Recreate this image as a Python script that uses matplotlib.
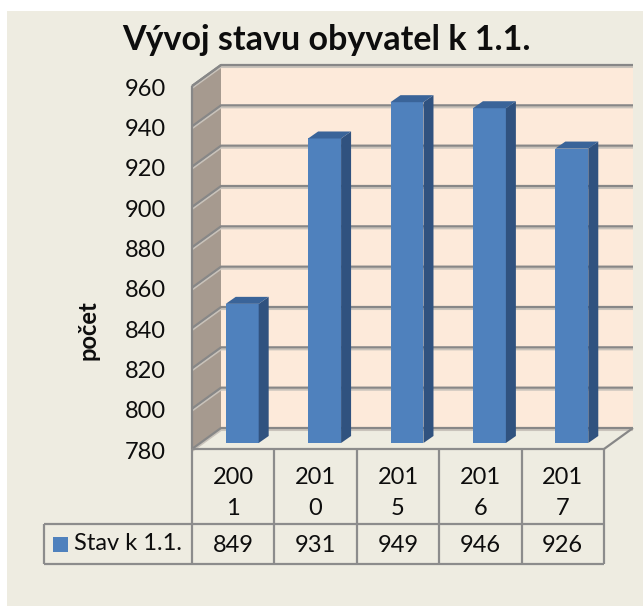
import matplotlib
matplotlib.use('Agg')
from matplotlib import pyplot as plt
from matplotlib.patches import Polygon, Rectangle
from matplotlib.lines import Line2D
from matplotlib.transforms import IdentityTransform, offset_copy

# data
years = ['2001', '2010', '2015', '2016', '2017']
counts = [849, 931, 949, 946, 926]
series_name = 'Stav k 1.1.'
title = 'Vývoj stavu obyvatel k 1.1.'
ylabel = 'počet'
yticks = [780, 800, 820, 840, 860, 880, 900, 920, 940, 960]

plt.rcParams['font.family'] = ['Lato', 'DejaVu Sans']

W, H, DPI = 643, 606, 100
BACK = (29, 21)      # depth of the floor / walls in pixels
BAR = (9, 6)         # where the bars stand in the depth
BDEPTH = (10, 7)     # thickness of a bar
grid_c = '#878787'
table_c = '#8c8c8c'
txt_c = '#0d0d0d'
fs = 17

fig = plt.figure(figsize=(W / DPI, H / DPI), dpi=DPI)
fig.patch.set_facecolor('white')
fig.add_artist(Rectangle((7, 0), W, H - 11, transform=IdentityTransform(),
                         facecolor='#EEECE1', edgecolor='none', zorder=0))

ax = fig.add_axes([192 / W, (H - 449) / H, 412 / W, 363 / H])
ax.set_xlim(-0.5, len(years) - 0.5)
ax.set_ylim(yticks[0], yticks[-1])
ax.axis('off')
x_lo, x_hi = -0.5, len(years) - 0.5
y_lo, y_hi = yticks[0], yticks[-1]


def px(x, y, d=(0, 0)):
    X, Y = ax.transData.transform((x, y))
    return (X + d[0], Y + d[1])


def add(d1, d2):
    return (d1[0] + d2[0], d1[1] + d2[1])


def poly(pts, fc, ec='none', lw=0, z=1):
    fig.add_artist(Polygon(pts, closed=True, transform=IdentityTransform(),
                           facecolor=fc, edgecolor=ec, linewidth=lw, zorder=z))


def line(pts, c, lw, z=3):
    xs = [p[0] for p in pts]
    ys = [p[1] for p in pts]
    fig.add_artist(Line2D(xs, ys, transform=IdentityTransform(), color=c,
                          linewidth=lw, zorder=z, solid_capstyle='butt'))


# walls and floor
poly([px(x_lo, y_lo, BACK), px(x_hi, y_lo, BACK), px(x_hi, y_hi, BACK), px(x_lo, y_hi, BACK)], '#FDEADA', z=1)
poly([px(x_lo, y_lo), px(x_lo, y_hi), px(x_lo, y_hi, BACK), px(x_lo, y_lo, BACK)], '#A69A8F', z=1)
poly([px(x_lo, y_lo), px(x_hi, y_lo), px(x_hi, y_lo, BACK), px(x_lo, y_lo, BACK)], '#EEECE1', z=1)

# gridlines (with a soft shadow)
for v in yticks:
    pts = [px(x_lo, v), px(x_lo, v, BACK), px(x_hi, v, BACK)]
    line([(p[0], p[1] - 2) for p in pts], '#c9c3bb', 1.5, z=2)
    line(pts, grid_c, 1.6, z=3)
line([px(x_lo, y_lo), px(x_lo, y_hi)], grid_c, 1.6, z=3)
line([px(x_lo, y_hi), px(x_lo, y_hi, BACK)], grid_c, 1.6, z=3)
line([px(x_hi, y_lo), px(x_hi, y_lo, BACK)], grid_c, 1.6, z=3)

# bars
half = 0.2
for i, v in enumerate(counts):
    x0, x1 = i - half, i + half
    back = add(BAR, BDEPTH)
    poly([px(x0, y_lo, BAR), px(x1, y_lo, BAR), px(x1, v, BAR), px(x0, v, BAR)], '#4F81BD', z=5)
    poly([px(x1, y_lo, BAR), px(x1, y_lo, back), px(x1, v, back), px(x1, v, BAR)], '#30527F', z=5)
    poly([px(x0, v, BAR), px(x1, v, BAR), px(x1, v, back), px(x0, v, back)], '#3A6499', z=5)

# y tick labels
tick_tr = offset_copy(ax.transData, fig=fig, x=-26, y=-3, units='dots')
for v in yticks:
    ax.text(x_lo, v, str(v), transform=tick_tr, ha='right', va='center',
            fontsize=fs, color=txt_c)

fig.text(88 / W, 1 - 330 / H, ylabel, rotation=90, ha='center', va='center',
         fontsize=17, fontweight='bold', color=txt_c)
fig.text(326 / W, 1 - 40 / H, title, ha='center', va='center',
         fontsize=24.5, fontweight='bold', color=txt_c)

# data table
row1_top = px(x_lo, y_lo)[1]
row2_top = H - 524
row2_bot = H - 564
leg_left = 44
edges = [px(i - 0.5, y_lo)[0] for i in range(len(years) + 1)]
for e in edges:
    line([(e, row1_top), (e, row2_bot)], table_c, 1.6, z=6)
line([(edges[0], row1_top), (edges[-1], row1_top)], table_c, 1.6, z=6)
line([(leg_left, row2_top), (edges[-1], row2_top)], table_c, 1.6, z=6)
line([(leg_left, row2_bot), (edges[-1], row2_bot)], table_c, 1.6, z=6)
line([(leg_left, row2_top), (leg_left, row2_bot)], table_c, 1.6, z=6)

for i, (yr, v) in enumerate(zip(years, counts)):
    cx = px(i, y_lo)[0]
    fig.text(cx / W, (H - 493) / H, yr[:3] + '\n' + yr[3:], ha='center', va='center',
             fontsize=fs, linespacing=1.6, color=txt_c)
    fig.text(cx / W, (H - 545) / H, str(v), ha='center', va='center',
             fontsize=fs, color=txt_c)

fig.add_artist(Rectangle((53, H - 552), 15, 15, transform=IdentityTransform(),
                         facecolor='#4F81BD', edgecolor='none', zorder=6))
fig.text(74 / W, (H - 544) / H, series_name, ha='left', va='center',
         fontsize=fs, color=txt_c)

fig.savefig('out.png', dpi=DPI, facecolor=fig.get_facecolor())
